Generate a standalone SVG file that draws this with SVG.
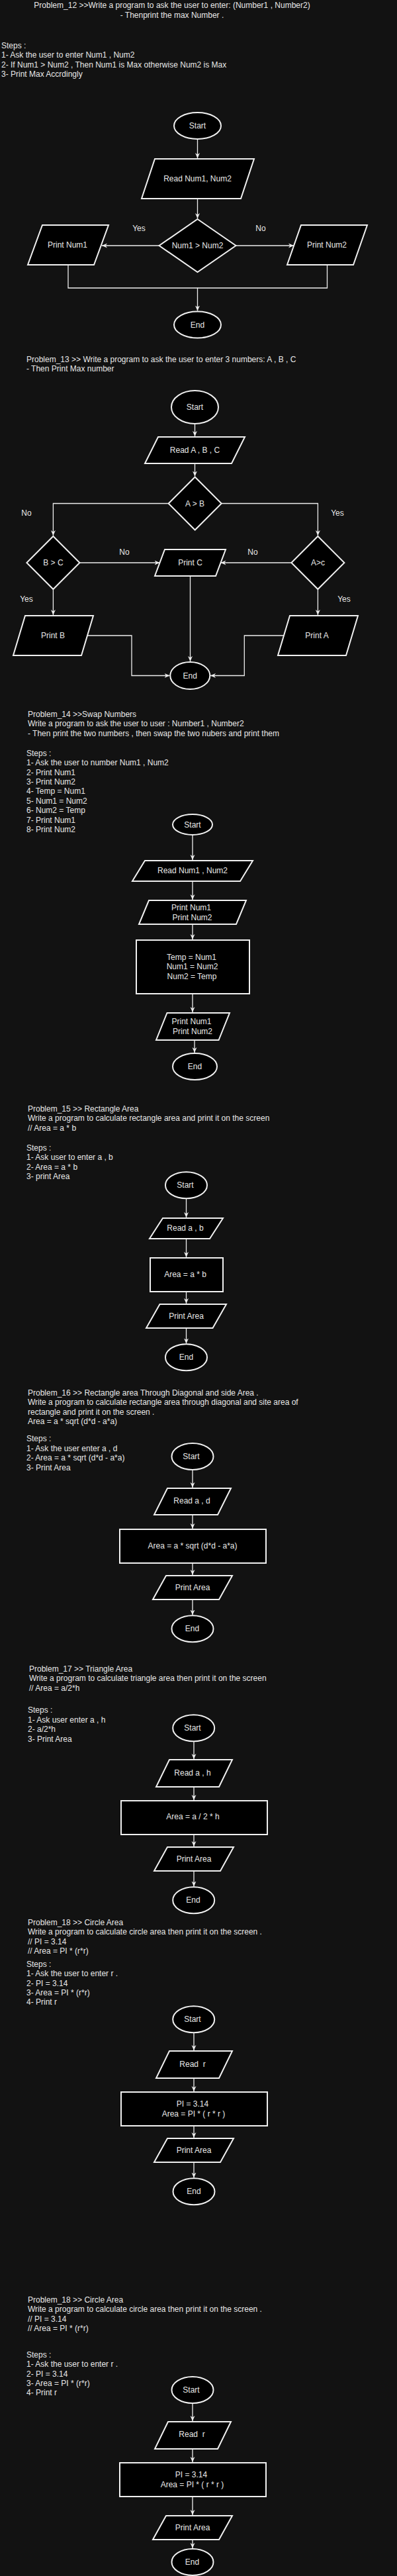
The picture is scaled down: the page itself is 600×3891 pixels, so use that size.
<svg xmlns="http://www.w3.org/2000/svg" width="600" height="3891" viewBox="0 0 600 3891">
<style>
.shape{fill:#000;stroke:#f0f0f0;stroke-width:2}
.conn{fill:none;stroke:#eeeeee;stroke-width:1.3}
.arr{marker-end:url(#ah)}
text{font-family:"Liberation Sans",Arial,Helvetica,sans-serif;font-size:12px;fill:#e8e8e8}
.c{text-anchor:middle}
</style>
<defs>
<marker id="ah" markerUnits="userSpaceOnUse" markerWidth="8" markerHeight="8" viewBox="0 0 8 8" refX="8" refY="4" orient="auto">
<path d="M0,0.5 L8,4 L0,7.5 L2.5,4 z" fill="#eeeeee"/>
</marker>
</defs>
<rect x="0" y="0" width="600" height="3891" fill="#121212"/>

<g id="connectors">
<!-- P12 -->
<path class="conn arr" d="M298.5,210 V239"/>
<path class="conn arr" d="M298.5,300 V330"/>
<path class="conn arr" d="M240.5,371 H154"/>
<path class="conn arr" d="M356.5,371 H444"/>
<path class="conn arr" d="M103,400 V435 H298.5 V469.5"/>
<path class="conn" d="M494.5,400 V435 H298.5"/>
<!-- P13 -->
<path class="conn arr" d="M294.5,640 V659"/>
<path class="conn arr" d="M294.5,700 V719.5"/>
<path class="conn arr" d="M254.7,760.5 H80.4 V809"/>
<path class="conn arr" d="M334.7,760.5 H480.4 V809"/>
<path class="conn arr" d="M120.4,850 H241.5"/>
<path class="conn arr" d="M440.4,850 H333.5"/>
<path class="conn arr" d="M80.4,890 V929"/>
<path class="conn arr" d="M480.4,890 V929"/>
<path class="conn arr" d="M287.5,870 V999"/>
<path class="conn arr" d="M132,960 H199 V1020.5 H256.5"/>
<path class="conn arr" d="M429,960 H369.3 V1020.5 H318"/>
<!-- P14 -->
<path class="conn arr" d="M291,1261 V1299"/>
<path class="conn arr" d="M291,1331 V1359"/>
<path class="conn arr" d="M291,1396 V1419"/>
<path class="conn arr" d="M291,1501 V1529"/>
<path class="conn arr" d="M294,1571 V1590"/>
<!-- P15 -->
<path class="conn arr" d="M281.5,1810.3 V1839"/>
<path class="conn arr" d="M281.5,1871 V1899"/>
<path class="conn arr" d="M281.5,1951 V1969"/>
<path class="conn arr" d="M281.5,2006 V2029.5"/>
<!-- P16 -->
<path class="conn arr" d="M291,2220 V2247"/>
<path class="conn arr" d="M291,2288 V2309"/>
<path class="conn arr" d="M291,2361 V2379"/>
<path class="conn arr" d="M291,2416 V2439.5"/>
<!-- P17 -->
<path class="conn arr" d="M293,2630.3 V2657"/>
<path class="conn arr" d="M293,2699 V2719"/>
<path class="conn arr" d="M293,2771 V2789"/>
<path class="conn arr" d="M293,2826 V2849.5"/>
<!-- P18a -->
<path class="conn arr" d="M293,3070.3 V3097"/>
<path class="conn arr" d="M293,3139 V3159"/>
<path class="conn arr" d="M293,3211 V3229"/>
<path class="conn arr" d="M293,3266 V3289.5"/>
<!-- P18b -->
<path class="conn arr" d="M291,3630 V3657"/>
<path class="conn arr" d="M291,3699 V3719"/>
<path class="conn arr" d="M291,3771 V3799"/>
<path class="conn arr" d="M291,3836 V3849"/>
</g>

<!-- Problem 12 -->
<g id="p12-text">
<text class="c" x="260" y="11.5">Problem_12 &gt;&gt;Write a program to ask the user to enter: (Number1 , Number2)</text>
<text class="c" x="260" y="26.5">- Thenprint the max Number .</text>
<text x="2" y="72.7">Steps :<tspan x="2" dy="14.4">1- Ask the user to enter Num1 , Num2</tspan><tspan x="2" dy="14.4">2- If Num1 &gt; Num2 , Then Num1 is Max otherwise Num2 is Max</tspan><tspan x="2" dy="14.4">3- Print Max Accrdingly</tspan></text>
</g>
<g id="p12-start"><ellipse class="shape" cx="298.5" cy="190" rx="35.5" ry="20"/><text class="c" x="298.5" y="194">Start</text></g>
<g id="p12-read"><polygon class="shape" points="234,240 384,240 364,300 214,300"/><text class="c" x="298.5" y="274">Read Num1, Num2</text></g>
<g id="p12-dec"><polygon class="shape" points="298.5,331 356.5,371 298.5,411 240.5,371"/><text class="c" x="298.5" y="375">Num1 &gt; Num2</text></g>
<g id="p12-print1"><polygon class="shape" points="64,340 164,340 142,400 42,400"/><text class="c" x="102" y="374">Print Num1</text></g>
<g id="p12-print2"><polygon class="shape" points="455,340 555,340 534,400 434,400"/><text class="c" x="494" y="374">Print Num2</text></g>
<g id="p12-end"><ellipse class="shape" cx="298.5" cy="490.5" rx="35.5" ry="20"/><text class="c" x="298.5" y="494.5">End</text></g>
<g id="p12-labels"><text class="c" x="210" y="349">Yes</text><text class="c" x="394" y="349">No</text></g>

<!-- Problem 13 -->
<g id="p13-text">
<text x="40" y="546.7">Problem_13 &gt;&gt; Write a program to ask the user to enter 3 numbers: A , B , C<tspan x="40" dy="14.4">- Then Print Max number</tspan></text>
</g>
<g id="p13-start"><ellipse class="shape" cx="294.5" cy="615" rx="35.5" ry="25"/><text class="c" x="294.5" y="619">Start</text></g>
<g id="p13-read"><polygon class="shape" points="239,660 370,660 350,700 219,700"/><text class="c" x="294.5" y="684">Read A , B , C</text></g>
<g id="p13-decAB"><polygon class="shape" points="294.7,720.5 334.7,760.5 294.7,800.5 254.7,760.5"/><text class="c" x="294.5" y="764.5">A &gt; B</text></g>
<g id="p13-decBC"><polygon class="shape" points="80.4,810 120.4,850 80.4,890 40.4,850"/><text class="c" x="80.4" y="854">B &gt; C</text></g>
<g id="p13-decAC"><polygon class="shape" points="480.4,810 520.4,850 480.4,890 440.4,850"/><text class="c" x="480.4" y="854">A&gt;c</text></g>
<g id="p13-printC"><polygon class="shape" points="249,830 341,830 326,870 234,870"/><text class="c" x="287.5" y="854">Print C</text></g>
<g id="p13-printB"><polygon class="shape" points="38,930 141,930 123,990 20,990"/><text class="c" x="80" y="964">Print B</text></g>
<g id="p13-printA"><polygon class="shape" points="438,930 541,930 523,990 420,990"/><text class="c" x="479" y="964">Print A</text></g>
<g id="p13-end"><ellipse class="shape" cx="287.3" cy="1020.5" rx="30" ry="20.5"/><text class="c" x="287.3" y="1024.5">End</text></g>
<g id="p13-labels">
<text class="c" x="40" y="778.7">No</text><text class="c" x="510" y="778.7">Yes</text>
<text class="c" x="188" y="838.3">No</text><text class="c" x="382" y="838.3">No</text>
<text class="c" x="40" y="908.7">Yes</text><text class="c" x="520" y="908.7">Yes</text>
</g>

<!-- Problem 14 -->
<g id="p14-text">
<text x="42" y="1082.7">Problem_14 &gt;&gt;Swap Numbers<tspan x="42" dy="14.4">Write a program to ask the user to user : Number1 , Number2</tspan><tspan x="42" dy="14.4">- Then print the two numbers , then swap the two nubers and print them</tspan></text>
<text x="40" y="1141.7">Steps :<tspan x="40" dy="14.4">1- Ask the user to number Num1 , Num2</tspan><tspan x="40" dy="14.4">2- Print Num1</tspan><tspan x="40" dy="14.4">3- Print Num2</tspan><tspan x="40" dy="14.4">4- Temp = Num1</tspan><tspan x="40" dy="14.4">5- Num1 = Num2</tspan><tspan x="40" dy="14.4">6- Num2 = Temp</tspan><tspan x="40" dy="14.4">7- Print Num1</tspan><tspan x="40" dy="14.4">8- Print Num2</tspan></text>
</g>
<g id="p14-start"><ellipse class="shape" cx="291" cy="1245.5" rx="30" ry="15.5"/><text class="c" x="291" y="1249.5">Start</text></g>
<g id="p14-read"><polygon class="shape" points="219,1300 382,1300 363,1331 200,1331"/><text class="c" x="291" y="1318.7">Read Num1 , Num2</text></g>
<g id="p14-print1"><polygon class="shape" points="225,1360 372,1360 357,1396 210,1396"/><text class="c" x="289" y="1374.7">Print Num1</text><text class="c" x="290.5" y="1389.7">Print Num2</text></g>
<g id="p14-swap"><rect class="shape" x="206" y="1420" width="171" height="81"/><text class="c" x="289.5" y="1449.7">Temp = Num1</text><text class="c" x="290.5" y="1463.7">Num1 = Num2</text><text class="c" x="290" y="1478.7">Num2 = Temp</text></g>
<g id="p14-print2"><polygon class="shape" points="252.5,1530 347,1530 330.5,1571 236,1571"/><text class="c" x="289.5" y="1546.7">Print Num1</text><text class="c" x="291" y="1561.7">Print Num2</text></g>
<g id="p14-end"><ellipse class="shape" cx="294.5" cy="1611" rx="33.5" ry="20"/><text class="c" x="294.5" y="1615">End</text></g>

<!-- Problem 15 -->
<g id="p15-text">
<text x="42" y="1678.7">Problem_15 &gt;&gt; Rectangle Area<tspan x="42" dy="14.4">Write a program to calculate rectangle area and print it on the screen</tspan><tspan x="42" dy="14.4">// Area = a * b</tspan></text>
<text x="40" y="1737.7">Steps :<tspan x="40" dy="14.4">1- Ask user to enter a , b</tspan><tspan x="40" dy="14.4">2- Area = a * b</tspan><tspan x="40" dy="14.4">3- print Area</tspan></text>
</g>
<g id="p15-start"><ellipse class="shape" cx="281.5" cy="1790.3" rx="31.5" ry="20"/><text class="c" x="280" y="1794.3">Start</text></g>
<g id="p15-read"><polygon class="shape" points="246,1840 337,1840 317,1871 226,1871"/><text class="c" x="280" y="1858.7">Read a , b</text></g>
<g id="p15-calc"><rect class="shape" x="227" y="1900" width="110" height="51"/><text class="c" x="280" y="1928.7">Area = a * b</text></g>
<g id="p15-print"><polygon class="shape" points="241.5,1970 342,1970 321.5,2006 221,2006"/><text class="c" x="281.5" y="1991.7">Print Area</text></g>
<g id="p15-end"><ellipse class="shape" cx="281.5" cy="2050.3" rx="31.5" ry="20"/><text class="c" x="281.5" y="2054.3">End</text></g>

<!-- Problem 16 -->
<g id="p16-text">
<text x="42" y="2107.7">Problem_16 &gt;&gt; Rectangle area Through Diagonal and side Area .<tspan x="42" dy="14.4">Write a program to calculate rectangle area through diagonal and site area of</tspan><tspan x="42" dy="14.4">rectangle and print it on the screen .</tspan><tspan x="42" dy="14.4">Area = a * sqrt (d*d - a*a)</tspan></text>
<text x="40" y="2177.3">Steps :<tspan x="40" dy="14.4">1- Ask the user enter a , d</tspan><tspan x="40" dy="14.4">2- Area = a * sqrt (d*d - a*a)</tspan><tspan x="40" dy="14.4">3- Print Area</tspan></text>
</g>
<g id="p16-start"><ellipse class="shape" cx="291" cy="2200" rx="31.5" ry="20"/><text class="c" x="289" y="2204">Start</text></g>
<g id="p16-read"><polygon class="shape" points="253,2248 349,2248 329,2288 233,2288"/><text class="c" x="290" y="2271.3">Read a , d</text></g>
<g id="p16-calc"><rect class="shape" x="181" y="2310" width="221" height="51"/><text class="c" x="291" y="2338.7">Area = a * sqrt (d*d - a*a)</text></g>
<g id="p16-print"><polygon class="shape" points="251,2380 351,2380 331,2416 231,2416"/><text class="c" x="291" y="2401.7">Print Area</text></g>
<g id="p16-end"><ellipse class="shape" cx="291" cy="2460.3" rx="31.5" ry="20"/><text class="c" x="290.5" y="2464.3">End</text></g>

<!-- Problem 17 -->
<g id="p17-text">
<text x="44" y="2524.7">Problem_17 &gt;&gt; Triangle Area<tspan x="44" dy="14.4">Write a program to calculate triangle area then print it on the screen</tspan><tspan x="44" dy="14.4">// Area = a/2*h</tspan></text>
<text x="42" y="2587.3">Steps :<tspan x="42" dy="14.4">1- Ask user enter a , h</tspan><tspan x="42" dy="14.4">2- a/2*h</tspan><tspan x="42" dy="14.4">3- Print Area</tspan></text>
</g>
<g id="p17-start"><ellipse class="shape" cx="292.7" cy="2610.3" rx="31.5" ry="20"/><text class="c" x="291" y="2614.3">Start</text></g>
<g id="p17-read"><polygon class="shape" points="256,2658 351,2658 331,2699 236,2699"/><text class="c" x="291" y="2681.7">Read a , h</text></g>
<g id="p17-calc"><rect class="shape" x="183" y="2720" width="221" height="51"/><text class="c" x="291.5" y="2748.3">Area = a / 2 * h</text></g>
<g id="p17-print"><polygon class="shape" points="253,2790 353,2790 333,2826 233,2826"/><text class="c" x="293" y="2811.7">Print Area</text></g>
<g id="p17-end"><ellipse class="shape" cx="292.7" cy="2870.3" rx="31.5" ry="20"/><text class="c" x="292" y="2874.3">End</text></g>

<!-- Problem 18 (a) -->
<g id="p18a-text">
<text x="42" y="2907.7">Problem_18 &gt;&gt; Circle Area<tspan x="42" dy="14.4">Write a program to calculate circle area then print it on the screen .</tspan><tspan x="42" dy="14.4">// PI = 3.14</tspan><tspan x="42" dy="14.4">// Area = PI * (r*r)</tspan></text>
<text x="40" y="2970.7">Steps :<tspan x="40" dy="14.4">1- Ask the user to enter r .</tspan><tspan x="40" dy="14.4">2- PI = 3.14</tspan><tspan x="40" dy="14.4">3- Area = PI * (r*r)</tspan><tspan x="40" dy="14.4">4- Print r</tspan></text>
</g>
<g id="p18a-start"><ellipse class="shape" cx="292.7" cy="3050.3" rx="31.5" ry="20"/><text class="c" x="291" y="3054.3">Start</text></g>
<g id="p18a-read"><polygon class="shape" points="256,3098 351,3098 331,3139 236,3139"/><text class="c" x="291" y="3121.7" xml:space="preserve">Read  r</text></g>
<g id="p18a-calc"><rect class="shape" x="183" y="3160" width="221" height="51"/><text class="c" x="291" y="3181.7">PI = 3.14</text><text class="c" x="292.5" y="3196.7">Area = PI * ( r * r )</text></g>
<g id="p18a-print"><polygon class="shape" points="253,3230 353,3230 333,3266 233,3266"/><text class="c" x="293" y="3251.7">Print Area</text></g>
<g id="p18a-end"><ellipse class="shape" cx="293" cy="3310.3" rx="31.5" ry="20"/><text class="c" x="293" y="3314.3">End</text></g>

<!-- Problem 18 (b) -->
<g id="p18b-text">
<text x="42" y="3477.7">Problem_18 &gt;&gt; Circle Area<tspan x="42" dy="14.4">Write a program to calculate circle area then print it on the screen .</tspan><tspan x="42" dy="14.4">// PI = 3.14</tspan><tspan x="42" dy="14.4">// Area = PI * (r*r)</tspan></text>
<text x="40" y="3560.7">Steps :<tspan x="40" dy="14.4">1- Ask the user to enter r .</tspan><tspan x="40" dy="14.4">2- PI = 3.14</tspan><tspan x="40" dy="14.4">3- Area = PI * (r*r)</tspan><tspan x="40" dy="14.4">4- Print r</tspan></text>
</g>
<g id="p18b-start"><ellipse class="shape" cx="291" cy="3610" rx="31.5" ry="20"/><text class="c" x="289" y="3614">Start</text></g>
<g id="p18b-read"><polygon class="shape" points="254,3658 349,3658 329,3699 234,3699"/><text class="c" x="290" y="3681.3" xml:space="preserve">Read  r</text></g>
<g id="p18b-calc"><rect class="shape" x="181" y="3720" width="221" height="51"/><text class="c" x="289" y="3741.7">PI = 3.14</text><text class="c" x="290.5" y="3756.7">Area = PI * ( r * r )</text></g>
<g id="p18b-print"><polygon class="shape" points="251,3800 351,3800 331,3836 231,3836"/><text class="c" x="291" y="3821.7">Print Area</text></g>
<g id="p18b-end"><ellipse class="shape" cx="291" cy="3870" rx="31.5" ry="20"/><text class="c" x="290.5" y="3874">End</text></g>
</svg>
